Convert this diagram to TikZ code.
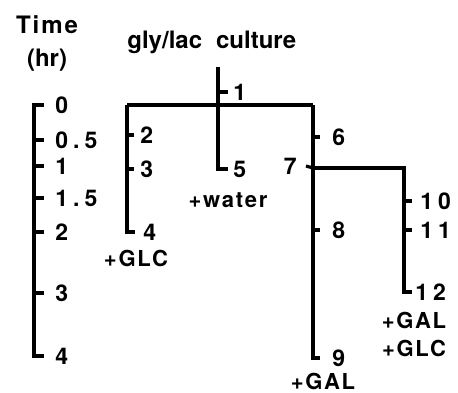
\documentclass[tikz,border=0pt]{standalone}
\usepackage{fontspec}
\setmainfont{TeX Gyre Heros}
\usetikzlibrary{positioning}

\begin{document}
\begin{tikzpicture}[
    x=0.5pt, y=-0.5pt,
    line/.style={line width=1.6pt},
    head/.style={font=\fontsize{12}{14}\selectfont\bfseries, inner sep=0pt},
    num/.style={font=\fontsize{11.5}{13}\selectfont\bfseries\addfontfeature{LetterSpace=22},
                inner ysep=0pt, inner xsep=2.5pt, anchor=west},
    cond/.style={font=\fontsize{11}{13}\selectfont\bfseries\addfontfeature{LetterSpace=8},
                 inner sep=0pt}
]
    \useasboundingbox (0,0) rectangle (458,392);

    % headings
    \node[head, font=\fontsize{12}{14}\selectfont\bfseries\addfontfeature{LetterSpace=8}]
        (time) at (47,25) {Time};
    \node[head] (hr) at (47,60) {(hr)};
    \node[head, anchor=west] (title) at (127,42) {gly/lac\hspace{7pt}culture};

    % time axis
    \node[num, inner xsep=5.5pt] (t0) at (44,105) {0};
    \node[num, inner xsep=5.5pt] (t05) at (44,140) {0.5};
    \node[num, inner xsep=5.5pt] (t1) at (44,166) {1};
    \node[num, inner xsep=5.5pt] (t15) at (44,198) {1.5};
    \node[num, inner xsep=5.5pt] (t2) at (44,232) {2};
    \node[num, inner xsep=5.5pt] (t3) at (44,293) {3};
    \node[num, inner xsep=5.5pt] (t4) at (44,356) {4};
    \coordinate (ax) at (34,232);

    \draw[line] (t0.west) -| (ax) |- (t4.west);
    \foreach \n in {t05,t1,t15,t2,t3}
        \draw[line] (ax |- \n.west) -- (\n.west);

    % culture tree
    \coordinate (root) at (218,67);
    \coordinate (left) at (127,105);
    \coordinate (right) at (313,105);
    \coordinate (fork) at (313,168);
    \coordinate (far) at (404,168);

    \node[num] (n1) at (228,92) {1};
    \node[num, inner xsep=3pt] (n2) at (134,135) {2};
    \node[num, inner xsep=3pt] (n3) at (134,169) {3};
    \node[num, inner xsep=4pt] (n4) at (135,232) {4};
    \node[num] (n5) at (228,169) {5};
    \node[num, inner xsep=6pt] (n6) at (320,137) {6};
    \node[num, anchor=east, inner xsep=4.5pt] (n7) at (306,166) {7};
    \node[num, inner xsep=6pt] (n8) at (320,230) {8};
    \node[num, inner xsep=6pt] (n9) at (320,358) {9};
    \node[num, inner xsep=4pt] (n10) at (412,201) {10};
    \node[num, inner xsep=4pt] (n11) at (412,230) {11};
    \node[num, inner xsep=1.5pt] (n12) at (412,292) {12};

    \node[cond] (glc) at (136,258) {+GLC};
    \node[cond] (water) at (228,200) {+water};
    \node[cond] (gal) at (323,381) {+GAL};
    \node[cond] (gal2) at (414,320) {+GAL};
    \node[cond] (glc2) at (414,348) {+GLC};

    \draw[line] (root) |- (n5.west);
    \draw[line] (left) -- (right);
    \draw[line] (left) |- (n4.west);
    \draw[line] (right) |- (n9.west);
    \draw[line] (fork) -- (far) |- (n12.west);
    \draw[line] (n7.east) -- (fork);

    \draw[line] (root |- n1.west) -- (n1.west);
    \draw[line] (left |- n2.west) -- (n2.west);
    \draw[line] (left |- n3.west) -- (n3.west);
    \draw[line] (right |- n6.west) -- (n6.west);
    \draw[line] (right |- n8.west) -- (n8.west);
    \draw[line] (far |- n10.west) -- (n10.west);
    \draw[line] (far |- n11.west) -- (n11.west);
\end{tikzpicture}
\end{document}
